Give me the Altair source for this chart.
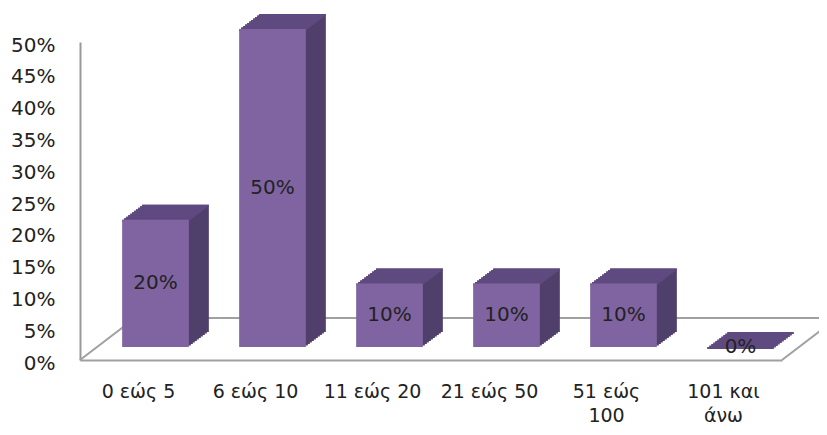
import altair as alt
import pandas as pd

# ---- data ----
categories = ["0 εώς 5", "6 εώς 10", "11 εώς 20", "21 εώς 50", "51 εώς 100", "101 και άνω"]
shares = [0.20, 0.50, 0.10, 0.10, 0.10, 0.00]
y_ticks = [0.0, 0.05, 0.10, 0.15, 0.20, 0.25, 0.30, 0.35, 0.40, 0.45, 0.50]

df = pd.DataFrame({"cat": categories, "share": shares})

# ---- styles ----
FRONT = "#8064A2"
TOP = "#5F4A80"
SIDE = "#503F6B"
FRAME = "#A0A0A0"
TXT = "#222222"
FONT = "DejaVu Sans"
W, H = 702, 318
FX, FY = 17, -13      # front face shift (perspective)
DX, DY = 20, -15      # bar depth
N = 10                # extrusion steps

x_enc = alt.X(
    "cat:N",
    sort=categories,
    scale=alt.Scale(paddingInner=0.43, paddingOuter=0.215),
    axis=alt.Axis(
        title=None, ticks=False, tickSize=0, labelAngle=0, labelPadding=22,
        labelFont=FONT, labelFontSize=19, labelColor=TXT, labelLineHeight=24,
        labelExpr="length(datum.label) > 9 ? [slice(datum.label, 0, lastindexof(datum.label, ' ')), "
                  "slice(datum.label, lastindexof(datum.label, ' ') + 1)] : datum.label",
        domainColor=FRAME, domainWidth=2,
    ),
)
y_axis = alt.Axis(
    values=y_ticks, format=".0%", title=None, grid=False, ticks=False, tickSize=0,
    labelPadding=25, labelOffset=3, labelFont=FONT, labelFontSize=20, labelColor=TXT,
    domainColor="#999999", domainWidth=2,
)
y_scale = alt.Scale(domain=[0, 0.5], nice=False, zero=True)
y_enc = alt.Y("share:Q", scale=y_scale, axis=y_axis)

base = alt.Chart(df)
frame_src = alt.Chart(alt.Data(values=[{"f": 1}]))

layers = []

# floor frame (back edge and diagonals)
for (xa, ya, xb, yb) in [(55, 276, 760, 276), (0, 318, 55, 276), (702, 318, 757, 276)]:
    layers.append(
        frame_src.mark_rule(color=FRAME, strokeWidth=2).encode(
            x=alt.value(xa), y=alt.value(ya), x2=alt.value(xb), y2=alt.value(yb)
        )
    )

# side extrusion (back to front)
for k in range(N, 0, -1):
    t = k / N
    ox, oy = FX + DX * t, FY + DY * t
    layers.append(
        base.mark_bar(color=SIDE, xOffset=ox, x2Offset=ox, yOffset=oy, y2Offset=oy).encode(
            x=x_enc, y=y_enc
        )
    )

# top faces
for k in range(N, -1, -1):
    t = k / N
    ox, oy = FX + DX * t, FY + DY * t
    layers.append(
        base.mark_bar(color=TOP, xOffset=ox, x2Offset=ox, yOffset=oy, y2Offset=oy + 2).encode(
            x=x_enc, y=y_enc, y2="share:Q"
        )
    )

# front faces
layers.append(
    base.mark_bar(color=FRONT, xOffset=FX, x2Offset=FX, yOffset=FY, y2Offset=FY).encode(
        x=x_enc, y=y_enc
    )
)

# value labels
layers.append(
    base.transform_calculate(mid="datum.share / 2").mark_text(
        font=FONT, fontSize=20, color=TXT, xOffset=FX, yOffset=FY, baseline="middle"
    ).encode(
        x=x_enc,
        y=alt.Y("mid:Q", scale=y_scale, axis=y_axis),
        text=alt.Text("share:Q", format=".0%"),
    )
)

chart = alt.layer(*layers).properties(
    width=W,
    height=H,
    autosize=alt.AutoSizeParams(type="none"),
    padding={"left": 72, "top": 34, "right": 37, "bottom": 67},
    background="white",
).configure_view(stroke=None)

chart.save("out.html", embed_options={"renderer": "svg", "actions": False})
